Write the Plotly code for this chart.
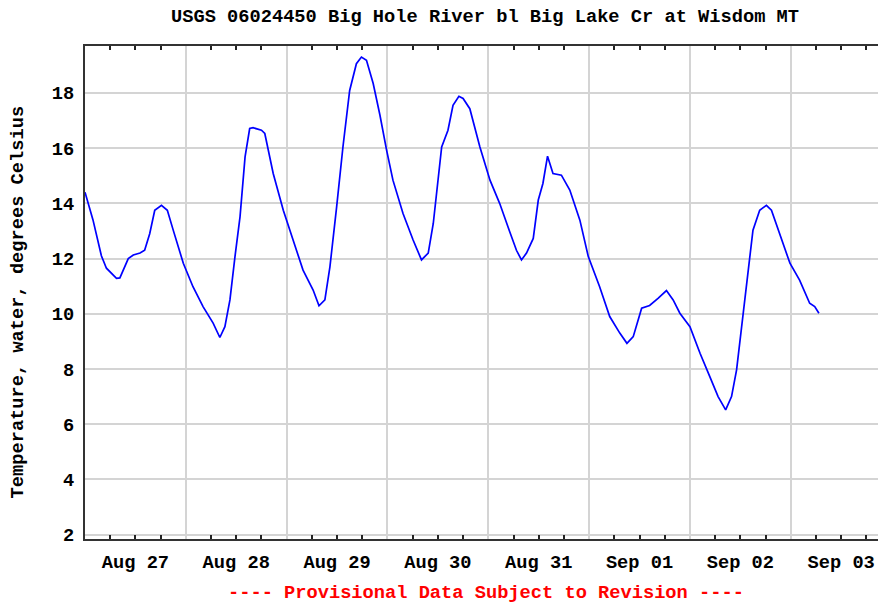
import pandas as pd
import plotly.graph_objects as go

# water temperature, hours counted from Aug 27 00:00
START = "2023-08-27 00:00"
END = "2023-09-03 22:40"

hours = [
    0.0, 1.9, 3.9, 5.1, 7.5, 8.3, 10.3, 11.5, 13.1, 14.2, 15.4, 16.6, 18.2,
    19.6, 21.0, 23.4, 25.7, 28.1, 30.5, 32.1, 33.3, 34.5, 35.7, 36.9, 38.1,
    39.2, 40.0, 42.0, 42.8, 44.8, 47.2, 49.5, 51.9, 54.3, 55.7, 57.1, 58.3,
    59.9, 61.4, 63.0, 64.6, 65.8, 67.0, 68.6, 70.2, 71.8, 73.3, 75.7, 78.1,
    80.1, 81.7, 82.9, 84.1, 84.9, 86.4, 87.6, 89.0, 90.0, 91.6, 94.0, 96.4,
    98.7, 101.1, 102.7, 103.9, 105.1, 106.7, 107.9, 109.0, 110.1, 111.4,
    113.4, 115.4, 117.8, 119.8, 122.5, 124.9, 127.3, 129.0, 130.5, 132.5,
    134.4, 136.4, 138.4, 140.0, 141.6, 144.0, 146.4, 148.7, 150.7, 152.5,
    153.9, 155.1, 156.7, 157.8, 159.0, 160.6, 162.2, 163.4, 165.4, 167.8,
    170.1, 172.5, 173.7, 174.7,
]
temp_c = [
    14.4, 13.4, 12.1, 11.65, 11.28, 11.3, 12.0, 12.13, 12.2, 12.3, 12.9, 13.75,
    13.93, 13.75, 13.03, 11.83, 10.98, 10.26, 9.66, 9.14, 9.53, 10.5, 12.07,
    13.51, 15.68, 16.71, 16.74, 16.65, 16.53, 15.08, 13.75, 12.67, 11.58,
    10.86, 10.29, 10.5, 11.7, 13.87, 16.04, 18.09, 19.06, 19.3, 19.18, 18.34,
    17.2, 15.92, 14.84, 13.63, 12.67, 11.95, 12.2, 13.27, 14.84, 16.04, 16.65,
    17.55, 17.88, 17.8, 17.43, 16.04, 14.84, 14.0, 12.97, 12.3, 11.95, 12.2,
    12.73, 14.12, 14.72, 15.71, 15.08, 15.02, 14.48, 13.39, 12.07, 10.98, 9.9,
    9.3, 8.93, 9.17, 10.2, 10.3, 10.56, 10.84, 10.5, 10.02, 9.53, 8.57, 7.73,
    7.0, 6.52, 7.0, 7.97, 10.02, 11.46, 13.03, 13.75, 13.93, 13.75, 12.91,
    11.83, 11.22, 10.38, 10.26, 10.02,
]

times = pd.Timestamp(START) + pd.to_timedelta(hours, unit="h")

FONT = "Liberation Mono"
FSIZE = 18.7
GRID = "#d4d4d4"
AXIS = "#333333"

fig = go.Figure()
fig.add_trace(go.Scatter(x=times, y=temp_c, mode="lines",
                         line=dict(color="#0000ff", width=1.7),
                         showlegend=False))

# page body adds 8px, so margins are shifted back by 8
fig.update_layout(
    width=886, height=606,
    margin=dict(l=77, r=8, t=38, b=75),
    paper_bgcolor="white", plot_bgcolor="white",
    font=dict(family=FONT, size=FSIZE, color="black", weight="bold"),
    title=dict(text="USGS 06024450 Big Hole River bl Big Lake Cr at Wisdom MT",
               xref="container", yref="container", x=0.5384, y=0.9884,
               xanchor="center", yanchor="middle",
               font=dict(family=FONT, size=FSIZE, color="black", weight="bold")),
)

fig.update_xaxes(
    type="date", range=[START, END], automargin=False,
    tick0=START, dtick=86400000, tickformat="%b %d", ticklabelmode="period",
    ticks="", ticklabelstandoff=5,
    showgrid=True, gridcolor=GRID, gridwidth=2,
    showline=True, linecolor=AXIS, linewidth=2, mirror="ticks",
    minor=dict(dtick=21600000, ticks="inside", ticklen=4, tickwidth=2,
               tickcolor="#222222", showgrid=False),
)
fig.update_yaxes(
    range=[1.84, 19.70], tick0=0, dtick=2, automargin=False,
    ticks="", ticklabelstandoff=5,
    showgrid=True, gridcolor=GRID, gridwidth=2, zeroline=False,
    showline=True, linecolor=AXIS, linewidth=2,
)

fig.add_annotation(text="Temperature, water, degrees Celsius",
                   xref="paper", yref="paper", x=-0.0836, y=0.48,
                   textangle=-90, showarrow=False,
                   xanchor="center", yanchor="middle")
fig.add_annotation(text="---- Provisional Data Subject to Revision ----",
                   xref="paper", yref="paper", x=0.5, y=-0.1095,
                   showarrow=False, xanchor="center", yanchor="middle",
                   font=dict(color="#ff0000"))

fig.write_html("out.html")
